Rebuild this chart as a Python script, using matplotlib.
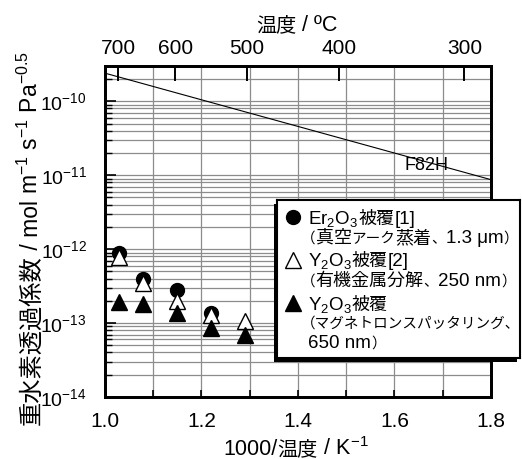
import matplotlib
matplotlib.use("Agg")
import matplotlib.pyplot as plt
from matplotlib.patches import Rectangle
from matplotlib.transforms import IdentityTransform
from matplotlib.ticker import LogLocator, MultipleLocator, NullFormatter
import numpy as np

plt.rcParams['font.family'] = ['Liberation Sans', 'Noto Sans CJK JP', 'DejaVu Sans']
plt.rcParams['mathtext.fontset'] = 'custom'
plt.rcParams['mathtext.rm'] = 'Liberation Sans'
plt.rcParams['mathtext.it'] = 'Liberation Sans:italic'
plt.rcParams['mathtext.bf'] = 'Liberation Sans:bold'
plt.rcParams['axes.unicode_minus'] = False

# data
x_er = [1.029, 1.078, 1.149, 1.219]
y_er = [8.8e-13, 4.0e-13, 2.8e-13, 1.38e-13]
x_y2o3_mod = [1.029, 1.078, 1.149, 1.219, 1.291]
y_y2o3_mod = [7.9e-13, 3.5e-13, 2.0e-13, 1.28e-13, 1.07e-13]
x_y2o3_sp = [1.029, 1.078, 1.149, 1.219, 1.291]
y_y2o3_sp = [1.95e-13, 1.8e-13, 1.35e-13, 8.5e-14, 6.9e-14]
f82h_x = [1.0, 1.8]
f82h_y = [2.4e-10, 8.7e-12]
top_temps_c = [700, 600, 500, 400, 300]

fig = plt.figure(figsize=(5.22, 4.59), dpi=100)
ax = fig.add_axes([0.2011, 0.1351, 0.7395, 0.7211])
renderer = fig.canvas.get_renderer()


def text_row(pieces, x, y, vertical=False, center=False, zorder=3):
    # CJK text and mathtext can't share one string, so lay the pieces end to end
    ts, widths = [], []
    for p, fs in pieces:
        t = fig.text(0, 0, p, fontsize=fs, ha='left', va='baseline',
                     transform=IdentityTransform(), zorder=zorder)
        widths.append(t.get_window_extent(renderer).width)
        ts.append(t)
    off = -sum(widths) / 2 if center else 0
    for t, w in zip(ts, widths):
        if vertical:
            t.set_position((x, y + off))
            t.set_rotation(90)
            t.set_rotation_mode('anchor')
        else:
            t.set_position((x + off, y))
        off += w


ax.plot(f82h_x, f82h_y, color='black', lw=0.8, zorder=3)
ax.text(1.62, 1.35e-11, 'F82H', fontsize=13, va='center', ha='left')

ax.plot(x_er, y_er, 'o', color='black', ms=10, zorder=4, clip_on=False)
ax.plot(x_y2o3_mod, y_y2o3_mod, '^', mfc='white', mec='black', mew=1.0,
        ms=11, zorder=5, clip_on=False)
ax.plot(x_y2o3_sp, y_y2o3_sp, '^', color='black', ms=11, zorder=6, clip_on=False)

ax.set_yscale('log')
ax.set_xlim(1.0, 1.8)
ax.set_ylim(1e-14, 3e-10)
ax.xaxis.set_major_locator(MultipleLocator(0.2))
ax.xaxis.set_minor_locator(MultipleLocator(0.1))
ax.yaxis.set_major_locator(LogLocator(base=10, numticks=10))
ax.yaxis.set_minor_locator(LogLocator(base=10, subs=np.arange(2, 10), numticks=10))
ax.yaxis.set_minor_formatter(NullFormatter())

ax.grid(True, which='both', color='#8c8c8c', lw=0.9, zorder=0)
ax.set_axisbelow(True)
ax.tick_params(axis='both', which='both', direction='in', top=False, right=False,
               color='black')
ax.tick_params(axis='x', which='both', length=5, width=1.2, pad=11, labelsize=15)
ax.tick_params(axis='y', which='major', length=8, width=1.2, pad=13, labelsize=14)
ax.tick_params(axis='y', which='minor', length=5, width=1.0)
for s in ax.spines.values():
    s.set_linewidth(2)

# top temperature axis
ax2 = ax.twiny()
ax2.set_xlim(ax.get_xlim())
ax2.set_xticks([1000 / (t + 273.15) for t in top_temps_c])
ax2.set_xticklabels([str(t) for t in top_temps_c])
ax2.tick_params(axis='x', direction='in', length=11, width=1.4, labelsize=15, pad=6)
for s in ax2.spines.values():
    s.set_linewidth(2)

# axis titles (pixel positions, origin bottom-left)
text_row([('1000/', 15.5), ('温度', 14.5), (' / K$^{-1}$', 15.5)], 296, 4, center=True)
text_row([('温度', 14.5), (' / ºC', 15.5)], 297, 428, center=True)
text_row([('重水素透過係数', 17.5), (' / mol', 16.5), (' m$^{-1}$ s$^{-1}$ Pa$^{-0.5}$', 16.5)],
         38, 221, vertical=True, center=True)

# legend box (drawn by hand so the marker sits on the first line)
lx, ly, lw_, lh = 0.5307, 0.220, 0.4655, 0.3443
fig.patches.append(Rectangle((lx - 0.006, ly - 0.008), lw_, lh, transform=fig.transFigure,
                             facecolor='black', edgecolor='none', zorder=8))
lax = fig.add_axes([lx, ly, lw_, lh], zorder=9)
lax.set_xlim(0, 1)
lax.set_ylim(0, 1)
lax.set_xticks([])
lax.set_yticks([])
lax.set_facecolor('white')
for s in lax.spines.values():
    s.set_linewidth(1.5)

lax.plot([0.066], [0.892], 'o', color='black', ms=10)
lax.plot([0.066], [0.620], '^', mfc='white', mec='black', mew=1.0, ms=11)
lax.plot([0.066], [0.348], '^', color='black', ms=11)

kj, kn, la = 13, 10.5, 13.5  # kanji, kana/punctuation, latin
text_row([('Er$_2$O$_3$', la), ('被覆', kj), ('[1]', la)], 308, 235, zorder=10)
text_row([('（', kn), ('真空', kj), ('アーク', kn), ('蒸着', kj), ('、', kn),
          ('1.3 μm', la), ('）', kn)], 301, 216, zorder=10)
text_row([('Y$_2$O$_3$', la), ('被覆', kj), ('[2]', la)], 308, 193, zorder=10)
text_row([('（', kn), ('有機金属分解', kj), ('、', kn), ('250 nm', la), ('）', kn)],
         301, 173, zorder=10)
text_row([('Y$_2$O$_3$', la), ('被覆', kj)], 308, 149, zorder=10)
text_row([('（マグネトロンスパッタリング、', kn)], 301, 131, zorder=10)
text_row([('650 nm', la), ('）', kn)], 308, 111, zorder=10)

fig.savefig('out.png', dpi=100)
